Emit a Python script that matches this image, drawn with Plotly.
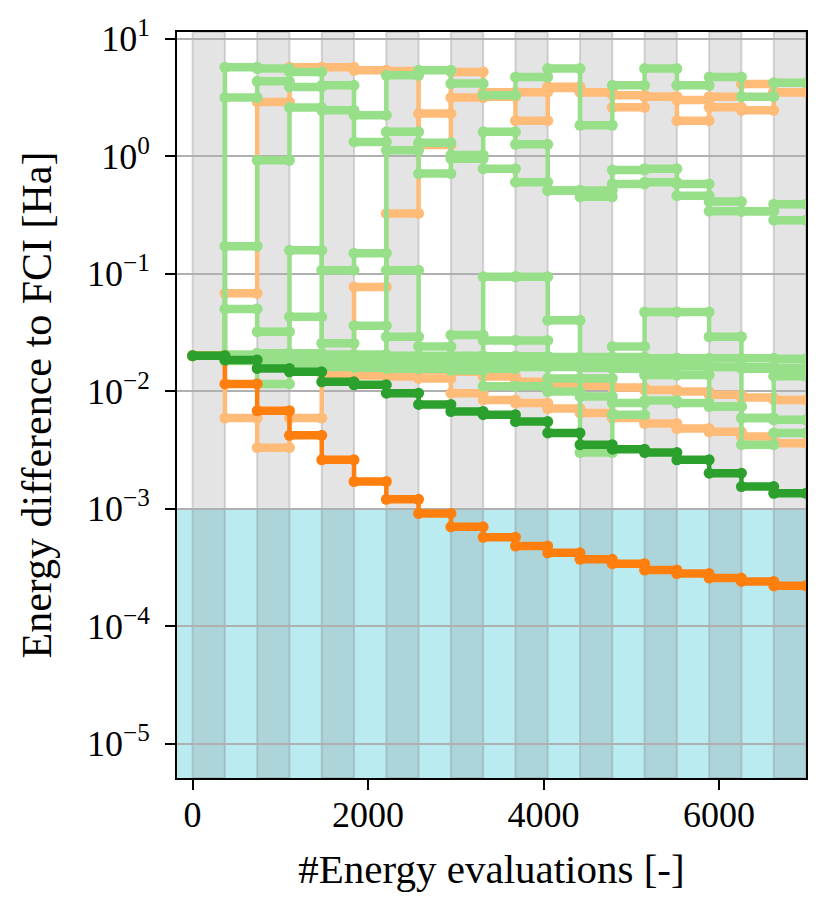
import math
import plotly.graph_objects as go

# energy evaluations at the step edges (one optimiser iteration = 368 evaluations)
evals = [368 * k for k in range(20)]

# best runs
orange_best = [0.020, 0.0115, 0.0068, 0.0042, 0.0026, 0.0017, 0.0012, 0.00091, 0.00070, 0.00057,
               0.00048, 0.00042, 0.00037, 0.00034, 0.00030, 0.00028, 0.000256, 0.00024, 0.00022]
green_best = [0.020, 0.0184, 0.0156, 0.0146, 0.0120, 0.0113, 0.0096, 0.0077, 0.0067, 0.0063,
              0.0055, 0.0044, 0.0035, 0.0032, 0.0030, 0.0026, 0.0020, 0.00154, 0.00135]

# other runs, orange method
orange_run1 = [0.020, 0.068, 2.89, 5.7, 5.7, 5.37, 5.3, 1.24, 3.15, 3.2,
               2.0, 3.8, 3.5, 2.6, 3.2, 2.0, 2.6, 2.45, 3.5]
orange_run2 = [0.020, 0.019, 0.018, 0.017, 0.017, 0.077, 0.325, 2.3, 5.2, 3.5,
               3.5, 3.9, 3.5, 3.3, 3.2, 3.0, 3.2, 4.1, 3.5]
orange_run3 = [0.020, 0.019, 0.0185, 0.018, 0.017, 0.0165, 0.0158, 0.0152, 0.0146, 0.0133,
               0.0120, 0.0113, 0.0111, 0.0107, 0.0102, 0.0099, 0.0093, 0.0088, 0.0084]
orange_run4 = [0.020, 0.0059, 0.0033, 0.0059, 0.0140, 0.0136, 0.0133, 0.0128, 0.0096, 0.0084,
               0.0079, 0.0071, 0.0065, 0.0059, 0.0053, 0.0048, 0.0045, 0.0041, 0.0036]

# other runs, green method
green_run1 = [0.020, 5.7, 5.56, 5.2, 4.0, 2.23, 4.87, 5.37, 4.14, 3.3,
              4.7, 5.56, 1.83, 4.0, 5.56, 4.0, 4.7, 3.2, 4.2]
green_run2 = [0.020, 3.15, 4.33, 3.88, 2.45, 1.32, 1.12, 1.3, 1.02, 1.61,
              1.26, 0.51, 0.45, 0.76, 0.78, 0.58, 0.41, 0.34, 0.39]
green_run3 = [0.020, 0.171, 0.92, 2.59, 0.019, 0.018, 1.61, 0.71, 0.95, 0.78,
              0.60, 0.51, 0.51, 0.58, 0.60, 0.46, 0.34, 0.34, 0.285]
green_run4 = [0.020, 0.050, 0.032, 0.158, 0.107, 0.149, 0.107, 0.024, 0.030, 0.094,
              0.094, 0.040, 0.0030, 0.024, 0.047, 0.047, 0.029, 0.0035, 0.0044]
green_run5 = [0.020, 0.020, 0.0115, 0.043, 0.0255, 0.036, 0.029, 0.019, 0.018, 0.027,
              0.027, 0.0128, 0.0128, 0.0079, 0.0137, 0.0137, 0.0074, 0.0059, 0.0134]
green_run6 = [0.020, 0.019, 0.018, 0.018, 0.0175, 0.017, 0.017, 0.0165, 0.016, 0.011,
              0.011, 0.0099, 0.0090, 0.0063, 0.0083, 0.0079, 0.0074, 0.0059, 0.0057]
green_run7 = [0.020, 0.0195, 0.019, 0.019, 0.0185, 0.0185, 0.018, 0.018, 0.0178, 0.0175,
              0.0175, 0.017, 0.017, 0.0168, 0.0165, 0.0165, 0.016, 0.016, 0.0158]
green_run8 = [0.020, 0.018, 0.017, 0.0165, 0.016, 0.0158, 0.0155, 0.0155, 0.015, 0.0155,
              0.016, 0.016, 0.0158, 0.0155, 0.016, 0.0162, 0.016, 0.0155, 0.015]
green_run9 = [0.020, 0.0205, 0.021, 0.021, 0.0205, 0.0205, 0.020, 0.020, 0.020, 0.0198,
              0.0198, 0.0195, 0.0195, 0.0195, 0.019, 0.019, 0.019, 0.019, 0.0188]

chem_acc = 1e-3
ytick_vals = [1e-5, 1e-4, 1e-3, 1e-2, 1e-1, 1e0, 1e1]
ytick_text = ["10<sup>−5</sup>", "10<sup>−4</sup>", "10<sup>−3</sup>", "10<sup>−2</sup>",
              "10<sup>−1</sup>", "10<sup>0</sup>", "10<sup>1</sup>"]
xtick_vals = [0, 2000, 4000, 6000]

LIGHT_ORANGE = "#ffbb78"
DARK_ORANGE = "#ff7f0e"
LIGHT_GREEN = "#98df8a"
DARK_GREEN = "#2ca02c"

x_range = [-178, 6992]
y_range = [-5.293, 1.056]

fig = go.Figure()


def add_run(vals, color):
    hx, hy, vx, vy = [], [], [], []
    for k, v in enumerate(vals):
        hx += [evals[k], evals[k + 1], None]
        hy += [v, v, None]
        if k + 1 < len(vals):
            vx += [evals[k + 1], evals[k + 1], None]
            vy += [v, vals[k + 1], None]
    fig.add_trace(go.Scatter(x=vx, y=vy, mode="lines", line=dict(color=color, width=4.5),
                             hoverinfo="skip", showlegend=False))
    fig.add_trace(go.Scatter(x=hx, y=hy, mode="lines+markers",
                             line=dict(color=color, width=8.5),
                             marker=dict(color=color, size=11, line=dict(width=0)),
                             hoverinfo="skip", showlegend=False))


for run in [orange_run1, orange_run2, orange_run3, orange_run4]:
    add_run(run, LIGHT_ORANGE)
for run in [green_run1, green_run2, green_run3, green_run4, green_run5,
            green_run6, green_run7, green_run8, green_run9]:
    add_run(run, LIGHT_GREEN)
add_run(orange_best, DARK_ORANGE)
add_run(green_best, DARK_GREEN)

# chemical accuracy region
acc_frac = (math.log10(chem_acc) - y_range[0]) / (y_range[1] - y_range[0])
shapes = [dict(type="rect", xref="paper", yref="y domain", x0=0, x1=1, y0=0, y1=acc_frac,
               fillcolor="rgba(23,190,207,0.3)", line=dict(width=0), layer="below")]
# iteration stripes
for k in range(0, len(evals) - 1, 2):
    shapes.append(dict(type="rect", xref="x", yref="y domain", x0=evals[k], x1=evals[k + 1],
                       y0=0, y1=1, fillcolor="rgba(128,128,128,0.21)",
                       line=dict(color="rgba(128,128,128,0.3)", width=2), layer="below"))

font = "Liberation Serif, DejaVu Serif, serif"
fig.update_layout(
    width=822, height=907,
    margin=dict(l=169, r=24, t=24, b=137),
    paper_bgcolor="white", plot_bgcolor="white",
    font=dict(family=font, size=36, color="black"),
    shapes=shapes,
    showlegend=False,
)
fig.update_xaxes(
    range=x_range, tickvals=xtick_vals, showgrid=False, zeroline=False,
    showline=True, linecolor="black", linewidth=2, mirror=True,
    ticks="outside", ticklen=10, tickwidth=2, tickcolor="black",
    ticklabelstandoff=-6,
    title=dict(text="#Energy evaluations [-]", font=dict(size=41), standoff=20),
    automargin=False,
)
fig.update_yaxes(
    type="log", range=y_range, tickvals=ytick_vals, ticktext=ytick_text,
    showgrid=True, gridcolor="#b0b0b0", gridwidth=1.5, zeroline=False,
    showline=True, linecolor="black", linewidth=2, mirror=True,
    ticks="outside", ticklen=10, tickwidth=2, tickcolor="black",
    ticklabelstandoff=8,
    title=dict(text="Energy difference to FCI [Ha]", font=dict(size=42), standoff=22),
    automargin=False,
)

fig.write_html("out.html")
